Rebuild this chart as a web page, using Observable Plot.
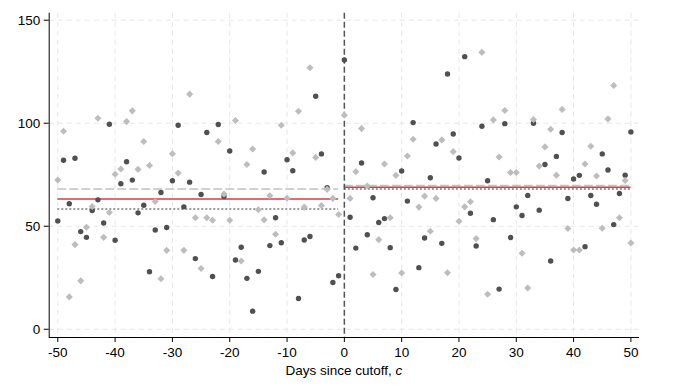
<!DOCTYPE html>
<html><head><meta charset="utf-8">
<script src="https://cdn.jsdelivr.net/npm/d3@7"></script>
<script src="https://cdn.jsdelivr.net/npm/@observablehq/plot@0.6"></script>
<style>
html,body{margin:0;padding:0;background:#fff;}
</style></head><body><div id="chart"></div>
<script>
// ---- data ----
const days = [-50,-49,-48,-47,-46,-45,-44,-43,-42,-41,-40,-39,-38,-37,-36,-35,-34,-33,-32,-31,-30,-29,-28,-27,-26,-25,-24,-23,-22,-21,-20,-19,-18,-17,-16,-15,-14,-13,-12,-11,-10,-9,-8,-7,-6,-5,-4,-3,-2,-1,0,1,2,3,4,5,6,7,8,9,10,11,12,13,14,15,16,17,18,19,20,21,22,23,24,25,26,27,28,29,30,31,32,33,34,35,36,37,38,39,40,41,42,43,44,45,46,47,48,49,50];
const circleValues = [52.6,82.0,60.9,83.0,47.4,44.6,57.6,62.8,51.6,99.5,43.2,70.6,81.3,72.4,56.5,60.2,27.9,48.2,66.4,49.4,72.1,99.0,59.4,71.4,34.3,65.4,95.5,25.6,99.4,64.4,86.5,33.6,39.8,24.7,8.8,28.1,76.3,40.6,54.1,42.0,82.3,76.9,14.9,43.3,45.0,113.1,85.1,68.7,22.7,26.0,130.7,54.4,39.4,80.7,45.9,63.8,51.8,53.7,39.6,19.3,76.8,62.2,100.3,29.9,44.3,73.5,89.9,41.7,123.9,94.8,83.1,132.3,56.3,40.4,98.5,72.1,53.2,19.5,99.8,44.5,59.4,55.2,64.9,100.0,57.8,80.0,33.1,83.9,95.5,63.5,72.9,74.7,40.1,64.9,60.7,85.1,77.3,50.8,65.9,74.8,95.8];
const diamondValues = [72.4,96.1,15.7,41.1,23.5,49.5,59.6,102.4,44.6,56.7,75.2,77.8,100.8,106.0,77.6,91.1,79.5,62.0,24.5,38.3,85.2,75.8,38.3,114.1,54.1,29.5,54.1,52.9,91.1,65.6,52.9,101.3,33.1,80.0,87.5,58.0,53.1,64.8,46.1,99.0,63.6,85.6,105.8,59.3,126.9,83.4,60.1,67.9,63.5,55.7,103.9,63.5,76.5,97.4,69.5,26.6,43.5,80.2,54.1,74.7,27.3,84.1,92.2,59.3,64.6,47.6,63.5,91.9,27.4,86.2,52.4,59.4,61.9,44.0,134.4,17.0,101.6,83.6,106.2,76.1,76.1,36.9,20.0,101.8,79.2,88.5,97.1,74.8,106.7,48.9,38.5,38.5,80.2,88.8,74.4,49.0,102.1,118.3,54.1,72.2,41.9];
const xTicks = [-50,-40,-30,-20,-10,0,10,20,30,40,50];
const yTicks = [0,50,100,150];
const cutoff = 0;
const xTitle = "Days since cutoff, ";
const xTitleVar = "c";

// ---- derived tables ----
const circles = days.map((d,i)=>({day:d, value:circleValues[i]}));
const diamonds = days.map((d,i)=>({day:d, value:diamondValues[i]}));
const sides = [d=>d<cutoff, d=>d>=cutoff].map(test=>{
  const idx = days.map((d,i)=>i).filter(i=>test(days[i]));
  const ds = idx.map(i=>days[i]);
  return {
    x1: d3.min(ds), x2: d3.max(ds),
    circleMean: d3.mean(idx, i=>circleValues[i]),
    diamondMean: d3.mean(idx, i=>diamondValues[i]),
    allMean: d3.mean(idx.flatMap(i=>[circleValues[i], diamondValues[i]]))
  };
});

const xDomain = [-51.5, 51.5];
const yDomain = [-4, 153.4];

const chart = Plot.plot({
  width: 676, height: 391,
  marginLeft: 48.7, marginRight: 37, marginTop: 12.7, marginBottom: 54,
  x: {domain: xDomain},
  y: {domain: yDomain},
  style: {fontFamily: "'Liberation Sans', Arial, sans-serif", fontSize: "13.5px", color: "#000", background: "#fff"},
  marks: [
    Plot.ruleX(xTicks, {stroke: "#e6e6e6", strokeWidth: 1, strokeDasharray: "5,4"}),
    Plot.ruleY(yTicks, {stroke: "#e6e6e6", strokeWidth: 1, strokeDasharray: "5,4"}),
    Plot.ruleY(sides, {x1: "x1", x2: "x2", y: "diamondMean", stroke: "#c2c2c2", strokeWidth: 1.5, strokeDasharray: "9,3"}),
    Plot.ruleY(sides, {x1: "x1", x2: "x2", y: "circleMean", stroke: "#7a7a7a", strokeWidth: 1.5, strokeDasharray: "2,2"}),
    Plot.ruleY(sides, {x1: "x1", x2: "x2", y: "allMean", stroke: "#e0393e", strokeWidth: 1.6}),
    Plot.ruleX([cutoff], {stroke: "#555", strokeWidth: 1.5, strokeDasharray: "6,3"}),
    Plot.dot(circles, {x: "day", y: "value", r: 2.7, fill: "#505050"}),
    Plot.dot(diamonds, {x: "day", y: "value", r: 3.2, symbol: "diamond2", fill: "#bdbdbd"}),
    Plot.axisY({ticks: yTicks, tickSize: 5, tickPadding: 4, label: null, tickFormat: d => String(d)}),
    Plot.axisX({ticks: xTicks, tickSize: 5, tickPadding: 4.5, label: null, tickFormat: d => String(d)}),
    Plot.ruleX([xDomain[0]], {stroke: "#000", strokeWidth: 1}),
    Plot.ruleY([yDomain[0]], {stroke: "#000", strokeWidth: 1})
  ]
});

const svg = d3.select(chart);
const xr = chart.scale("x").range;
const title = svg.append("text")
  .attr("x", (xr[0] + xr[1]) / 2)
  .attr("y", 375.3)
  .attr("text-anchor", "middle")
  .attr("fill", "#000")
  .style("font-size", "13.5px");
title.append("tspan").text(xTitle);
title.append("tspan").attr("font-style", "italic").text(xTitleVar);

document.getElementById("chart").appendChild(chart);
</script>
</body></html>
